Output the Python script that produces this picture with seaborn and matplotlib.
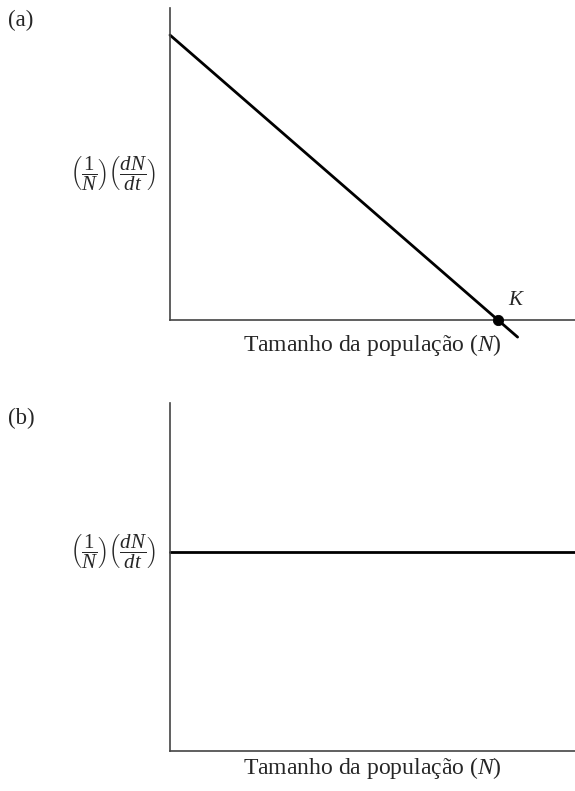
import numpy as np
import pandas as pd
import matplotlib
matplotlib.use("Agg")
import matplotlib.pyplot as plt
import seaborn as sns

# ------------------------------------------------------------------
# Data (arbitrary units: K = 100, r = 1)
# ------------------------------------------------------------------
N_a = [0, 106]          # panel (a) line, runs a bit past K
rate_a = [1.0, -0.06]
K_N = [100]
K_rate = [0.0]

N_b = [0, 123.5]        # panel (b) flat line
rate_b = [1.0, 1.0]

x_max = 123.5
ylim_a = (0, 1.095)
ylim_b = (0, 1.749)

ylab = r"$\left(\dfrac{1}{N}\right)\left(\dfrac{dN}{dt}\right)$"
xlab = r"Tamanho da população ($N$)"

# ------------------------------------------------------------------
# Setup
# ------------------------------------------------------------------
W, H = 575, 791
sns.set_style("white")
plt.rcParams["font.family"] = ["Liberation Serif", "DejaVu Serif"]
plt.rcParams["mathtext.fontset"] = "custom"
plt.rcParams["mathtext.rm"] = "Liberation Serif"
plt.rcParams["mathtext.it"] = "Liberation Serif:italic"

fig = plt.figure(figsize=(W / 100, H / 100), dpi=100)
ax_a = fig.add_axes([170 / W, 1 - 320 / H, 405 / W, 312 / H])
ax_b = fig.add_axes([170 / W, 1 - 751 / H, 405 / W, 348 / H])

df_a = pd.DataFrame({"N": N_a, "rate": rate_a})
df_b = pd.DataFrame({"N": N_b, "rate": rate_b})

sns.lineplot(data=df_a, x="N", y="rate", ax=ax_a, color="black", lw=2.0,
             clip_on=False)
sns.scatterplot(x=K_N, y=K_rate, ax=ax_a, color="black", s=55,
                edgecolor="black", clip_on=False, zorder=5)
ax_a.text(K_N[0] + 3.0, K_rate[0] + 0.035, "K", style="italic", fontsize=15,
          ha="left", va="bottom")

sns.lineplot(data=df_b, x="N", y="rate", ax=ax_b, color="black", lw=2.0,
             clip_on=False)

# per panel: axes, y-limits, ylabel y (px), xlabel y (px)
panels = [(ax_a, ylim_a, 174, 345), (ax_b, ylim_b, 552, 768)]
for ax, ylim, ylab_px, xlab_px in panels:
    ax.set_xlim(0, x_max)
    ax.set_ylim(*ylim)
    ax.set_xticks([])
    ax.set_yticks([])
    ax.set_xlabel("")
    ax.set_ylabel("")
    for s in ["top", "right"]:
        ax.spines[s].set_visible(False)
    for s in ["left", "bottom"]:
        ax.spines[s].set_color("#444444")
        ax.spines[s].set_linewidth(1.2)
    fig.text(372 / W, 1 - xlab_px / H, xlab, ha="center", va="center",
             fontsize=17)
    fig.text(156 / W, 1 - ylab_px / H, ylab, ha="right", va="center",
             fontsize=15)

fig.text(8 / W, 1 - 20 / H, "(a)", ha="left", va="center", fontsize=16.5)
fig.text(8 / W, 1 - 418 / H, "(b)", ha="left", va="center", fontsize=16.5)

fig.savefig("out.png", dpi=100)
